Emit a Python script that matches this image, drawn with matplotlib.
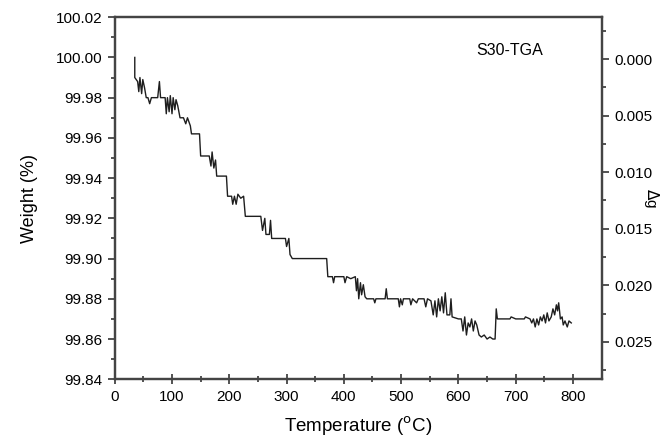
import matplotlib.pyplot as plt
import numpy as np

plt.rcParams['font.family'] = ['Liberation Sans', 'DejaVu Sans']

# TGA curve (temperature in C, weight in %)
temp = [35, 35, 40, 42, 44, 47, 49, 52, 55, 58, 61, 64, 75, 78, 80, 88, 90, 92,
        95, 97, 100, 102, 105, 107, 110, 114, 120, 124, 127, 132, 134, 148, 150,
        165, 168, 170, 173, 176, 178, 195, 197, 204, 206, 209, 212, 215, 220,
        225, 228, 255, 258, 262, 264, 270, 272, 274, 298, 300, 304, 306, 310,
        370, 372, 380, 382, 384, 400, 402, 405, 412, 420, 422, 424, 426, 429,
        431, 434, 437, 440, 452, 454, 456, 472, 474, 476, 495, 497, 499, 502,
        504, 515, 517, 520, 527, 530, 540, 543, 546, 552, 556, 559, 562, 565,
        568, 571, 574, 577, 580, 585, 587, 589, 600, 605, 608, 611, 614, 617,
        620, 623, 626, 629, 632, 636, 640, 645, 650, 655, 660, 664, 666, 668,
        690, 692, 700, 715, 717, 725, 728, 731, 734, 737, 740, 743, 746, 749,
        752, 755, 758, 762, 765, 768, 771, 773, 775, 778, 781, 783, 786, 790,
        793, 797]
weight = [100.000, 99.990, 99.988, 99.983, 99.990, 99.982, 99.989, 99.985,
          99.980, 99.980, 99.977, 99.980, 99.980, 99.988, 99.980, 99.980,
          99.972, 99.980, 99.973, 99.981, 99.972, 99.980, 99.974, 99.979,
          99.976, 99.970, 99.970, 99.967, 99.970, 99.966, 99.962, 99.962,
          99.951, 99.951, 99.946, 99.953, 99.945, 99.949, 99.941, 99.941,
          99.931, 99.931, 99.927, 99.931, 99.927, 99.932, 99.930, 99.931,
          99.921, 99.921, 99.914, 99.920, 99.912, 99.912, 99.919, 99.910,
          99.910, 99.906, 99.910, 99.902, 99.900, 99.900, 99.891, 99.891,
          99.888, 99.891, 99.891, 99.888, 99.891, 99.890, 99.891, 99.884,
          99.890, 99.880, 99.888, 99.882, 99.887, 99.881, 99.880, 99.880,
          99.878, 99.880, 99.880, 99.885, 99.880, 99.880, 99.876, 99.880,
          99.877, 99.880, 99.880, 99.877, 99.880, 99.878, 99.880, 99.880,
          99.876, 99.880, 99.879, 99.872, 99.879, 99.871, 99.880, 99.874,
          99.881, 99.873, 99.883, 99.872, 99.872, 99.880, 99.871, 99.870,
          99.870, 99.864, 99.871, 99.862, 99.868, 99.866, 99.870, 99.864,
          99.869, 99.867, 99.862, 99.861, 99.862, 99.860, 99.861, 99.860,
          99.860, 99.875, 99.870, 99.870, 99.871, 99.870, 99.870, 99.871,
          99.870, 99.868, 99.870, 99.866, 99.870, 99.867, 99.871, 99.869,
          99.872, 99.868, 99.873, 99.869, 99.871, 99.875, 99.872, 99.877,
          99.874, 99.878, 99.870, 99.871, 99.867, 99.869, 99.866, 99.869,
          99.868]

x_ticks = [0, 100, 200, 300, 400, 500, 600, 700, 800]
w_ticks = [99.84, 99.86, 99.88, 99.90, 99.92, 99.94, 99.96, 99.98, 100.00, 100.02]
dg_ticks = [0.000, 0.005, 0.010, 0.015, 0.020, 0.025]

fig = plt.figure(figsize=(6.67, 4.41), dpi=100)
ax = fig.add_axes([0.172, 0.140, 0.730, 0.821])
ax.plot(temp, weight, color='#1e1e1e', lw=1.0)

ax.set_xlim(0, 850)
ax.set_ylim(99.84, 100.02)
ax.set_xticks(x_ticks)
ax.set_xticks(np.arange(50, 850, 100), minor=True)
ax.set_yticks(w_ticks)
ax.set_yticklabels([f'{v:.2f}' for v in w_ticks])
ax.set_yticks(np.arange(99.85, 100.02, 0.02), minor=True)
ax.tick_params(axis='both', which='major', direction='out', length=5, width=1.3,
               labelsize=11, color='#444444')
ax.tick_params(axis='both', which='minor', direction='out', length=3, width=1.3,
               color='#444444')
ax.tick_params(axis='x', which='both', direction='inout', length=7)
ax.tick_params(axis='x', which='minor', length=5)
ax.tick_params(axis='x', pad=4)
ax.tick_params(axis='y', pad=4)

ax2 = ax.twinx()
ax2.set_ylim(0.0283, -0.0037)
ax2.set_yticks(dg_ticks)
ax2.set_yticklabels([f'{v:.3f}' for v in dg_ticks])
ax2.set_yticks([-0.0025, 0.0025, 0.0075, 0.0125, 0.0175, 0.0225, 0.0275], minor=True)
ax2.tick_params(axis='y', which='major', direction='out', length=5, width=1.3,
                labelsize=11, color='#444444', pad=4)
ax2.tick_params(axis='y', which='minor', direction='out', length=3, width=1.3,
                color='#444444')

for a in (ax, ax2):
    for s in a.spines.values():
        s.set_linewidth(1.6)
        s.set_color('#444444')

ax.set_xlabel(r'Temperature ($^{\mathrm{o}}$C)', fontsize=13.5, labelpad=8)
ax.set_ylabel('Weight (%)', fontsize=13, labelpad=13)
ax2.set_ylabel(r'$\Delta$g', fontsize=11, rotation=-90, labelpad=6)
ax.text(0.743, 0.895, 'S30-TGA', transform=ax.transAxes, fontsize=11.5)

fig.savefig('out.png', dpi=100)
